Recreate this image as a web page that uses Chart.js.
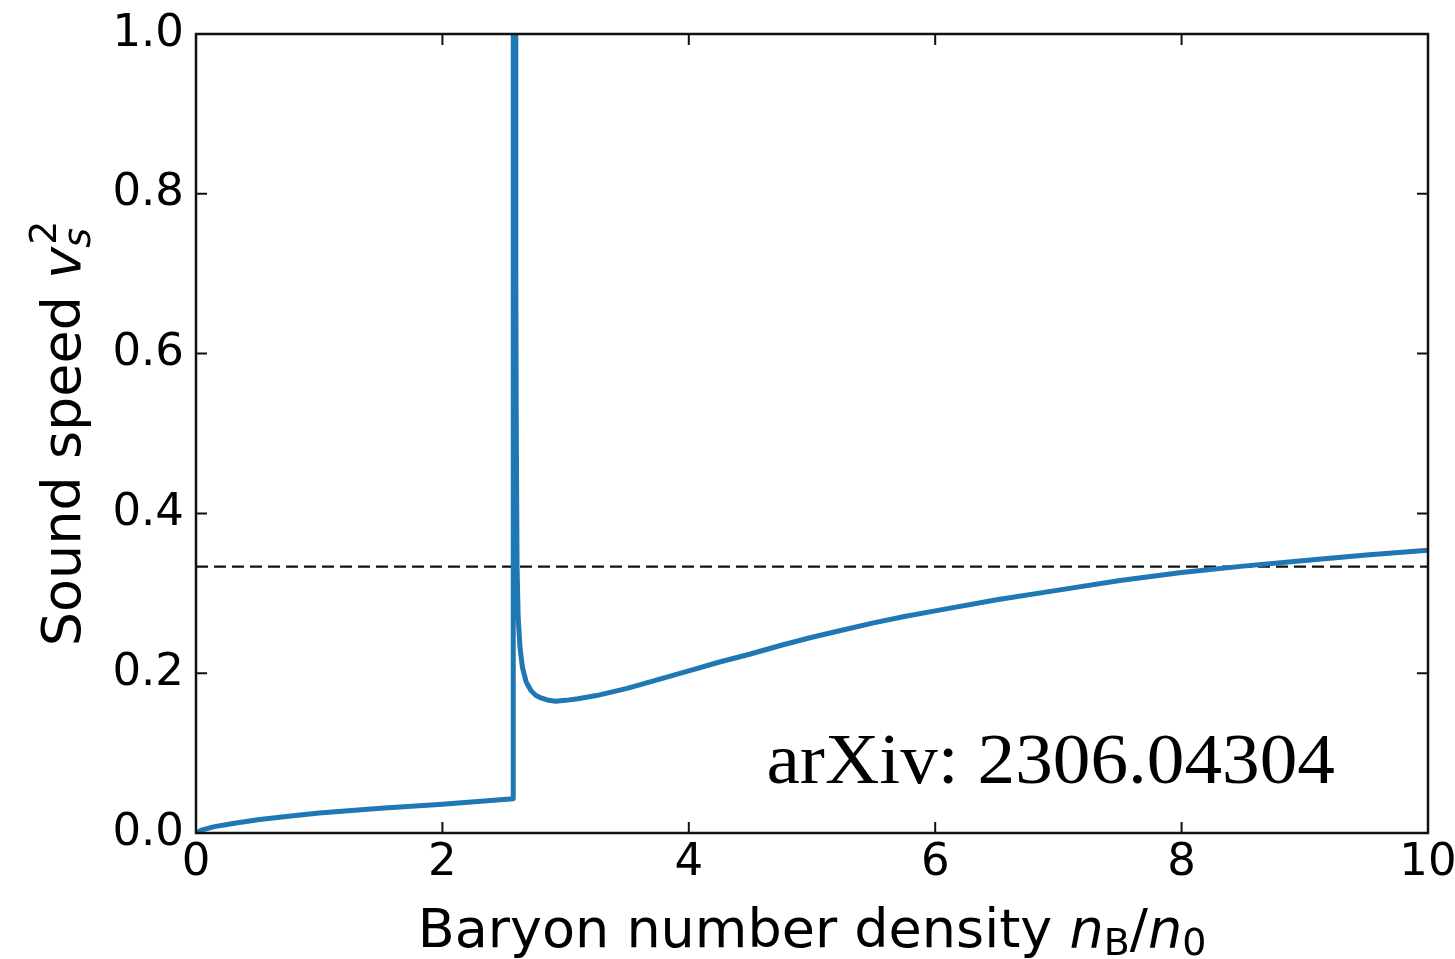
<!DOCTYPE html>
<html>
<head>
<meta charset="utf-8">
<script src="https://cdn.jsdelivr.net/npm/chart.js@4.4.0/dist/chart.umd.min.js"></script>
<style>
  html, body { margin: 0; padding: 0; background: #fff; }
  #wrap { width: 1455px; height: 959px; }
</style>
</head>
<body>
<div id="wrap"><canvas id="chart" width="1455" height="959"></canvas></div>
<script>
// baryon density n_B/n_0 and squared sound speed
const density = [0, 0.05, 0.15, 0.3, 0.5, 0.75, 1.0, 1.5, 2.0, 2.575,
  2.575, 2.592, 2.596, 2.6, 2.606, 2.615, 2.63, 2.65, 2.68, 2.72, 2.76, 2.8, 2.85, 2.92,
  3.0, 3.1, 3.25, 3.5, 3.75, 4.0, 4.25, 4.5, 4.75, 5.0, 5.25, 5.5, 5.75, 6.0,
  6.5, 7.0, 7.5, 8.0, 8.5, 9.0, 9.5, 10.0];
const soundSpeed2 = [0, 0.004, 0.008, 0.012, 0.0165, 0.021, 0.025, 0.031, 0.036, 0.043,
  1.05, 1.05, 0.7, 0.5, 0.333, 0.27, 0.232, 0.207, 0.189, 0.178, 0.172, 0.169, 0.1665, 0.165,
  0.166, 0.168, 0.172, 0.181, 0.192, 0.203, 0.214, 0.224, 0.235, 0.245, 0.254, 0.263, 0.271, 0.278,
  0.292, 0.304, 0.316, 0.326, 0.334, 0.341, 0.348, 0.354];

// conformal limit 1/3
const conformalX = [0, 10];
const conformalY = [1 / 3, 1 / 3];

const xRange = [0, 10];
const yRange = [0, 1];
const xStep = 2;
const yStep = 0.2;

const annotation = "arXiv: 2306.04304";
const annotationAt = [4.63, 0.0626];

const SANS = "'DejaVu Sans'";

function toPoints(xs, ys) {
  return xs.map((x, i) => ({ x: x, y: ys[i] }));
}

// frame + inward ticks like matplotlib
const framePlugin = {
  id: "frame",
  afterDatasetsDraw(chart) {
    const ctx = chart.ctx;
    const a = chart.chartArea;
    const xs = chart.scales.x;
    const ys = chart.scales.y;
    const tl = 11;
    ctx.save();
    ctx.strokeStyle = "#111";
    ctx.lineWidth = 2;
    ctx.beginPath();
    xs.ticks.forEach(t => {
      const px = xs.getPixelForValue(t.value);
      ctx.moveTo(px, a.bottom); ctx.lineTo(px, a.bottom - tl);
      ctx.moveTo(px, a.top); ctx.lineTo(px, a.top + tl);
    });
    ys.ticks.forEach(t => {
      const py = ys.getPixelForValue(t.value);
      ctx.moveTo(a.left, py); ctx.lineTo(a.left + tl, py);
      ctx.moveTo(a.right, py); ctx.lineTo(a.right - tl, py);
    });
    ctx.stroke();
    ctx.lineWidth = 2.5;
    ctx.strokeRect(a.left, a.top, a.right - a.left, a.bottom - a.top);
    ctx.restore();
  },
  afterDraw(chart) {
    const ctx = chart.ctx;
    const a = chart.chartArea;
    const xs = chart.scales.x;
    const ys = chart.scales.y;
    ctx.save();
    ctx.fillStyle = "#000";
    ctx.textBaseline = "alphabetic";
    ctx.textAlign = "left";

    // x axis title: Baryon number density n_B/n_0
    const big = "54px " + SANS;
    const bigIt = "oblique 54px " + SANS;
    const small = "38px " + SANS;
    const xParts = [
      ["Baryon number density ", big, 0],
      ["n", bigIt, 0],
      ["B", small, 8],
      ["/", big, 0],
      ["n", bigIt, 0],
      ["0", small, 8]
    ];
    let total = 0;
    xParts.forEach(p => { ctx.font = p[1]; total += ctx.measureText(p[0]).width; });
    let cx = (a.left + a.right) / 2 - total / 2;
    const baseX = 947;
    xParts.forEach(p => {
      ctx.font = p[1];
      ctx.fillText(p[0], cx, baseX + p[2]);
      cx += ctx.measureText(p[0]).width;
    });

    // y axis title: Sound speed v_s^2
    ctx.save();
    ctx.translate(80, (a.top + a.bottom) / 2);
    ctx.rotate(-Math.PI / 2);
    const yBig = "54px " + SANS;
    const yIt = "oblique 54px " + SANS;
    const ySmallIt = "oblique 38px " + SANS;
    const ySmall = "38px " + SANS;
    ctx.font = yBig;
    const w1 = ctx.measureText("Sound speed ").width;
    ctx.font = yIt;
    const w2 = ctx.measureText("v").width;
    ctx.font = ySmallIt;
    const w3 = ctx.measureText("s").width;
    ctx.font = ySmall;
    const w4 = ctx.measureText("2").width;
    const yTotal = w1 + w2 + Math.max(w3, w4) + 2;
    let ty = -yTotal / 2;
    ctx.font = yBig;
    ctx.fillText("Sound speed ", ty, 0);
    ty += w1;
    ctx.font = yIt;
    ctx.fillText("v", ty, 0);
    ty += w2 + 2;
    ctx.font = ySmallIt;
    ctx.fillText("s", ty - 3, 10);
    ctx.font = ySmall;
    ctx.fillText("2", ty, -24);
    ctx.restore();

    // annotation
    ctx.translate(xs.getPixelForValue(annotationAt[0]), ys.getPixelForValue(annotationAt[1]));
    ctx.scale(1.06, 1);
    ctx.font = "71px 'Liberation Serif'";
    ctx.fillText(annotation, 0, 0);
    ctx.restore();
  }
};

new Chart(document.getElementById("chart"), {
  type: "line",
  data: {
    datasets: [
      {
        data: toPoints(density, soundSpeed2),
        borderColor: "#1f77b4",
        borderWidth: 5,
        pointRadius: 0,
        tension: 0,
        borderJoinStyle: "round",
        fill: false,
        clip: 0,
        order: 1
      },
      {
        data: toPoints(conformalX, conformalY),
        borderColor: "#111",
        borderWidth: 2.4,
        borderDash: [12, 6],
        pointRadius: 0,
        fill: false,
        order: 2
      }
    ]
  },
  options: {
    responsive: false,
    animation: false,
    events: [],
    layout: { padding: { top: 34, right: 27, left: 0, bottom: 0 } },
    plugins: {
      legend: { display: false },
      tooltip: { enabled: false }
    },
    scales: {
      x: {
        type: "linear",
        min: xRange[0],
        max: xRange[1],
        grid: { display: false, drawTicks: false },
        border: { display: false },
        ticks: {
          stepSize: xStep,
          padding: 3,
          color: "#000",
          maxRotation: 0,
          font: { family: "DejaVu Sans", size: 45 }
        },
        afterFit(s) { s.height = 126; s.paddingLeft = 0; s.paddingRight = 0; }
      },
      y: {
        type: "linear",
        min: yRange[0],
        max: yRange[1],
        grid: { display: false, drawTicks: false },
        border: { display: false },
        ticks: {
          stepSize: yStep,
          padding: 12,
          color: "#000",
          font: { family: "DejaVu Sans", size: 45 },
          callback: v => v.toFixed(1)
        },
        afterFit(s) { s.width = 196; s.paddingTop = 0; s.paddingBottom = 0; }
      }
    }
  },
  plugins: [framePlugin]
});
</script>
</body>
</html>
